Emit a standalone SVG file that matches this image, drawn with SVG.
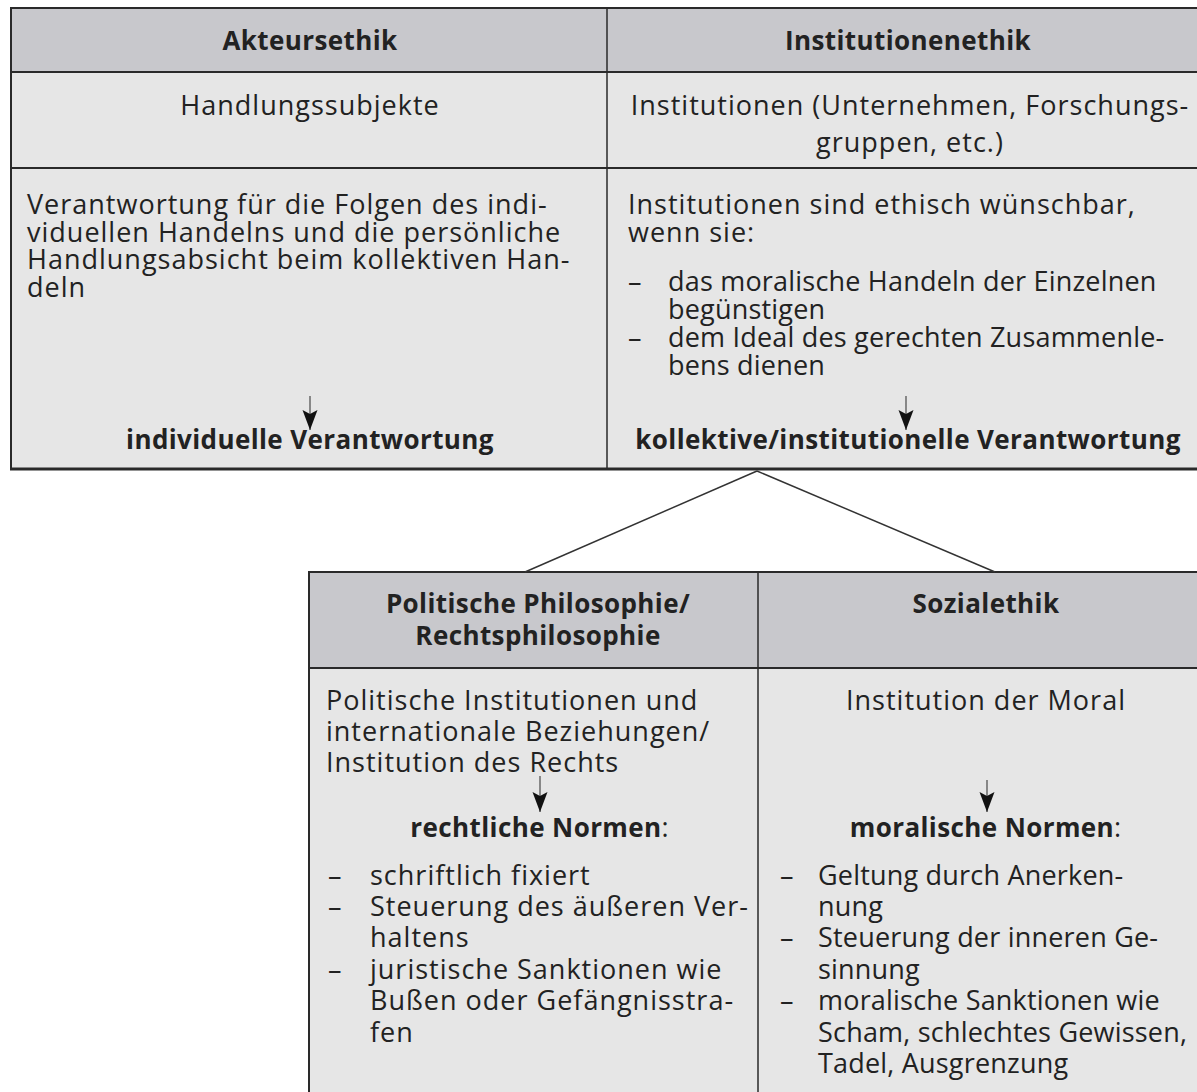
<svg xmlns="http://www.w3.org/2000/svg" width="1197" height="1092" viewBox="0 0 1197 1092">
<style>
.hdr{fill:#c8c8cc}
.bd{fill:#e6e6e6}
.ln{stroke:#2a2a2a;stroke-width:2;fill:none}
.lnk{stroke:#2a2a2a;stroke-width:3;fill:none}
.lnt{stroke:#2a2a2a;stroke-width:1.5;fill:none}
.t{font-family:"Open Sans","Noto Sans","DejaVu Sans",sans-serif;font-size:27px;letter-spacing:1px;fill:#222}
.b{font-weight:bold;font-size:26px;letter-spacing:0.4px}
.n{letter-spacing:0.2px}
.c{text-anchor:middle}
.arr{stroke:#555;stroke-width:1.3;fill:none;marker-end:url(#ah)}
.con{stroke:#333;stroke-width:1.5;fill:none}
</style>
<defs>
<marker id="ah" markerUnits="userSpaceOnUse" markerWidth="24" markerHeight="18" refX="20" refY="7.5" orient="auto">
<path d="M0,0 L20,7.5 L0,15 L4,7.5 z" fill="#111"/>
</marker>
</defs>
<rect width="1197" height="1092" fill="#fff"/>

<g id="akteursethik">
<rect class="hdr" x="11" y="8" width="596" height="64"/>
<rect class="bd" x="11" y="72" width="596" height="397"/>
<text class="t b c" x="310" y="50">Akteursethik</text>
<text class="t c" x="310" y="115">Handlungssubjekte</text>
<text class="t" x="27" y="214"><tspan x="27" y="214">Verantwortung für die Folgen des indi-</tspan><tspan x="27" y="242">viduellen Handelns und die persönliche</tspan><tspan x="27" y="269">Handlungsabsicht beim kollektiven Han-</tspan><tspan x="27" y="297">deln</tspan></text>
<line class="arr" x1="310" y1="396" x2="310" y2="430"/>
<text class="t b c" x="310" y="449">individuelle Verantwortung</text>
</g>

<g id="institutionenethik">
<rect class="hdr" x="607" y="8" width="600" height="64"/>
<rect class="bd" x="607" y="72" width="600" height="397"/>
<text class="t b c" x="908" y="50">Institutionenethik</text>
<text class="t c" x="910"><tspan x="910" y="115">Institutionen (Unternehmen, Forschungs-</tspan><tspan x="910" y="152">gruppen, etc.)</tspan></text>
<text class="t" x="628"><tspan x="628" y="214">Institutionen sind ethisch wünschbar,</tspan><tspan x="628" y="242">wenn sie:</tspan></text>
<text class="t" x="628"><tspan x="628" y="291">–</tspan><tspan x="628" y="347">–</tspan></text>
<text class="t n" x="668"><tspan x="668" y="291">das moralische Handeln der Einzelnen</tspan><tspan x="668" y="319">begünstigen</tspan><tspan x="668" y="347">dem Ideal des gerechten Zusammenle-</tspan><tspan x="668" y="375">bens dienen</tspan></text>
<line class="arr" x1="906" y1="396" x2="906" y2="430"/>
<text class="t b c" x="908" y="449">kollektive/institutionelle Verantwortung</text>
</g>

<g id="politische-philosophie">
<rect class="hdr" x="309" y="572" width="449" height="96"/>
<rect class="bd" x="309" y="668" width="449" height="440"/>
<text class="t b c" x="538"><tspan x="538" y="613">Politische Philosophie/</tspan><tspan x="538" y="645">Rechtsphilosophie</tspan></text>
<text class="t" x="326"><tspan x="326" y="710">Politische Institutionen und</tspan><tspan x="326" y="741">internationale Beziehungen/</tspan><tspan x="326" y="772">Institution des Rechts</tspan></text>
<line class="arr" x1="540" y1="776" x2="540" y2="812"/>
<text class="t c" x="540" y="837"><tspan class="b">rechtliche Normen</tspan>:</text>
<text class="t" x="328"><tspan x="328" y="885">–</tspan><tspan x="328" y="916">–</tspan><tspan x="328" y="979">–</tspan></text>
<text class="t" x="370"><tspan x="370" y="885">schriftlich fixiert</tspan><tspan x="370" y="916">Steuerung des äußeren Ver-</tspan><tspan x="370" y="947">haltens</tspan><tspan x="370" y="979">juristische Sanktionen wie</tspan><tspan x="370" y="1010">Bußen oder Gefängnisstra-</tspan><tspan x="370" y="1042">fen</tspan></text>
</g>

<g id="sozialethik">
<rect class="hdr" x="758" y="572" width="450" height="96"/>
<rect class="bd" x="758" y="668" width="450" height="440"/>
<text class="t b c" x="986" y="613">Sozialethik</text>
<text class="t c" x="986" y="710">Institution der Moral</text>
<line class="arr" x1="987" y1="780" x2="987" y2="812"/>
<text class="t c" x="986" y="837"><tspan class="b">moralische Normen</tspan>:</text>
<text class="t" x="780"><tspan x="780" y="885">–</tspan><tspan x="780" y="947">–</tspan><tspan x="780" y="1010">–</tspan></text>
<text class="t n" x="818"><tspan x="818" y="885">Geltung durch Anerken-</tspan><tspan x="818" y="916">nung</tspan><tspan x="818" y="947">Steuerung der inneren Ge-</tspan><tspan x="818" y="979">sinnung</tspan><tspan x="818" y="1010">moralische Sanktionen wie</tspan><tspan x="818" y="1042">Scham, schlechtes Gewissen,</tspan><tspan x="818" y="1073">Tadel, Ausgrenzung</tspan></text>
</g>

<g id="grid">
<path class="ln" d="M1210,8 H11 V469"/>
<path class="lnk" d="M10,469 H1210"/>
<path class="ln" d="M11,72 H1210 M11,168 H1210"/>
<path class="lnt" d="M607,8 V469"/>
<path class="ln" d="M1210,572 H309 V1100"/>
<path class="ln" d="M309,668 H1210"/>
<path class="lnt" d="M758,572 V1100"/>
</g>

<g id="connectors">
<line class="con" x1="757" y1="471" x2="525" y2="572"/>
<line class="con" x1="757" y1="471" x2="995" y2="572"/>
</g>
</svg>
